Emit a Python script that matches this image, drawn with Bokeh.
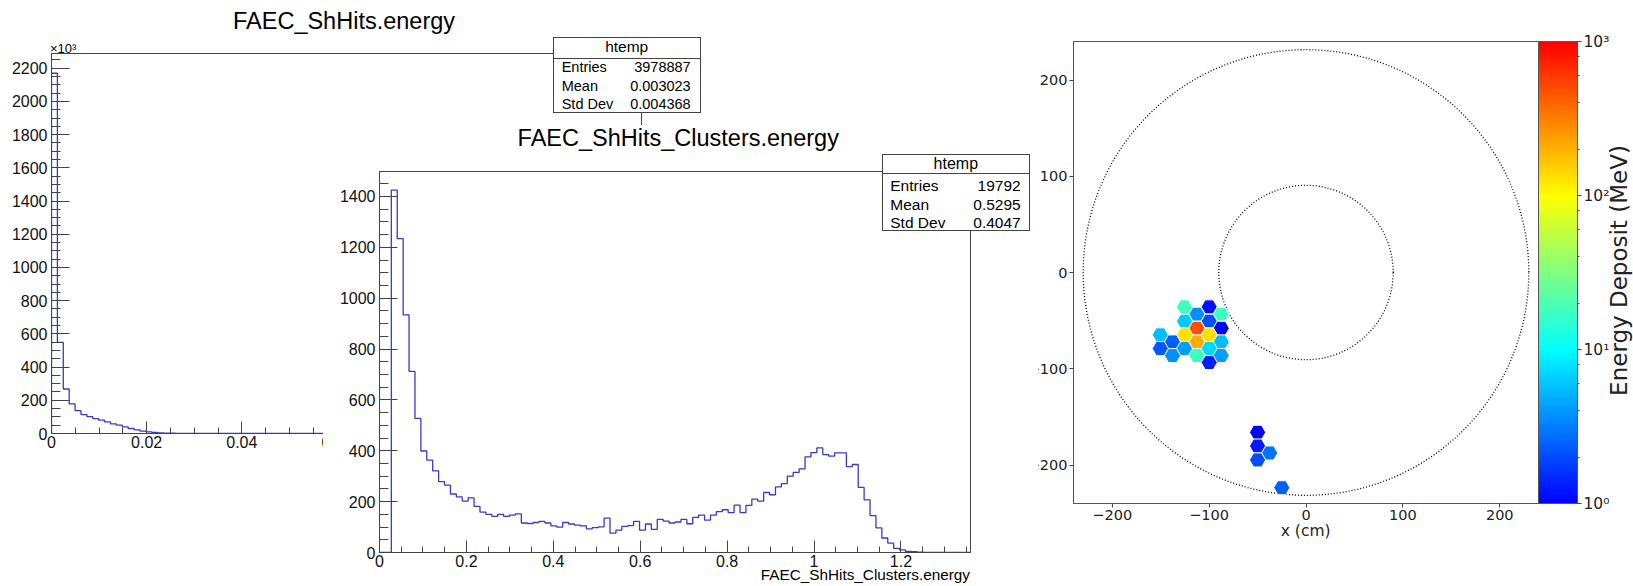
import numpy as np
from bokeh.plotting import figure
from bokeh.models import (Column, Div, ColumnDataSource, SingleIntervalTicker, FixedTicker,
                          CustomJSTickFormatter, LogColorMapper, ColorBar, LogTicker)
from bokeh.embed import file_html
from bokeh.resources import INLINE

# ---------------- data ----------------
hits_title = "FAEC_ShHits.energy"
hits_range = (0.0, 0.124)
hits_nbins = 100
hits_ymax_k = 2289
hits_counts_k = [2170, 549, 268, 178, 138, 114, 102, 90, 80, 70, 58, 50, 40, 30,
                 22, 14, 10, 6, 4, 2.5, 1.5, 1.0, 0.5]
stats_names = ["Entries", "Mean", "Std Dev"]
hits_stats_values = ["3978887", "0.003023", "0.004368"]

clus_title = "FAEC_ShHits_Clusters.energy"
clus_range = (0.0, 1.36)
clus_nbins = 100
clus_ymax = 1498
clus_counts = [0, 0, 1425, 1234, 934, 712, 527, 399, 363, 321, 279, 265, 230, 219, 202,
               215, 181, 159, 150, 142, 150, 142, 147, 152, 116, 114, 118, 122, 116, 105,
               100, 118, 112, 108, 105, 93, 98, 101, 135, 76, 88, 103, 106, 122, 88, 112,
               91, 130, 123, 116, 120, 130, 113, 138, 147, 127, 147, 161, 168, 157, 186,
               157, 185, 210, 202, 236, 227, 258, 271, 300, 315, 329, 376, 393, 411, 385,
               379, 392, 392, 338, 346, 256, 207, 145, 97, 57, 37, 16, 10, 4, 3, 1]
clus_stats_values = ["19792", "0.5295", "0.4047"]
stats_header = "htemp"

hex_x = [-125.4, -99.9, -112.6, -87.5, -125.4, -99.9, -112.6, -87.5, -150.4, -125.4,
         -99.9, -137.8, -112.6, -87.5, -150.4, -125.4, -99.9, -137.8, -112.6, -87.5,
         -99.9, -50.0, -50.0, -37.5, -50.0, -25.0]
hex_y = [-35.7, -35.7, -43.3, -43.3, -50.6, -50.6, -57.9, -57.9, -64.8, -64.8,
         -64.8, -72.1, -72.1, -72.1, -79.0, -79.0, -79.0, -86.3, -86.3, -86.3,
         -93.5, -166.0, -180.3, -187.5, -194.7, -223.6]
hex_e = [17.8, 1.16, 3.7, 17.8, 6.1, 2.06, 485, 1.0, 5.6, 132,
         132, 2.4, 204, 5.6, 2.2, 4.2, 7.0, 3.7, 17.8, 4.2,
         1.34, 1.0, 1.3, 2.8, 2.06, 2.4]
ring_r = [90, 230]
xy_ticks = [-200, -100, 0, 100, 200]
cbar_ticks = [1, 10, 100, 1000]
cbar_labels = ["10\u2070", "10\u00b9", "10\u00b2", "10\u00b3"]
x_label_r = "x (cm)"
cbar_title = "Energy Deposit (MeV)"

# ---------------- helpers ----------------
F_ROOT = "Liberation Sans"
F_MPL = "DejaVu Sans"
LINE_BLUE = "#3a3ac0"
AX = "#444444"
LEFT_PANEL = 90


def place(model, left, top, **extra):
    st = {"position": "absolute", "left": f"{left:.1f}px", "top": f"{top:.1f}px"}
    st.update(extra)
    model.styles = st
    return model


def step_source(counts, lo, hi, nbins):
    edges = np.linspace(lo, hi, nbins + 1)
    full = list(counts) + [0] * (nbins - len(counts))
    xs = [lo] + list(edges)
    ys = [0] + full + [full[-1]]
    return ColumnDataSource(dict(x=xs, y=ys))


def root_axes(p, xint, yint, xin, yin):
    xa, ya = p.xaxis[0], p.yaxis[0]
    xa.ticker = SingleIntervalTicker(interval=xint, num_minor_ticks=4)
    ya.ticker = SingleIntervalTicker(interval=yint, num_minor_ticks=4)
    fmt = "return String(Number(tick.toFixed(6)));"
    for ax in (xa, ya):
        ax.formatter = CustomJSTickFormatter(code=fmt)
        ax.axis_line_color = AX
        ax.major_tick_line_color = AX
        ax.minor_tick_line_color = AX
        ax.major_tick_out = 0
        ax.minor_tick_out = 0
        ax.major_label_text_font = F_ROOT
        ax.major_label_text_font_size = "16px"
        ax.major_label_text_color = "#111111"
    xa.major_tick_in = int(xin)
    xa.minor_tick_in = int(round(xin / 2))
    ya.major_tick_in = int(yin)
    ya.minor_tick_in = int(round(yin / 2))
    xa.major_label_standoff = 2
    ya.major_label_standoff = 4
    p.xgrid.visible = False
    p.ygrid.visible = False
    p.outline_line_color = AX
    p.outline_line_width = 1


def text_div(text, left, baseline, fs, font, width, align="left", color="#000"):
    top = baseline - 0.8465 * fs
    html = (f'<div style="font-family:\'{font}\';font-size:{fs}px;line-height:{fs}px;'
            f'white-space:nowrap;text-align:{align};color:{color};width:{width}px;">{text}</div>')
    d = Div(text=html, width=width, height=int(np.ceil(fs)), margin=0)
    return place(d, left, top)


def stats_div(left, top, w, h, line_rel, hdr_base, row_bases, pad_l, pad_r, fs_h, fs, values):
    parts = [f'<div style="position:relative;box-sizing:border-box;width:{w}px;height:{h}px;'
             f'border:1px solid {AX};background:#fff;font-family:\'{F_ROOT}\';color:#000;">']
    parts.append(f'<div style="position:absolute;left:0;top:{hdr_base - 0.8465*fs_h:.1f}px;width:100%;'
                 f'text-align:center;font-size:{fs_h}px;line-height:{fs_h}px;">{stats_header}</div>')
    parts.append(f'<div style="position:absolute;left:0;top:{line_rel:.1f}px;width:100%;'
                 f'border-top:1px solid {AX};"></div>')
    for name, val, b in zip(stats_names, values, row_bases):
        t = b - 0.8465 * fs
        parts.append(f'<div style="position:absolute;left:{pad_l}px;top:{t:.1f}px;font-size:{fs}px;'
                     f'line-height:{fs}px;white-space:nowrap;">{name}</div>')
        parts.append(f'<div style="position:absolute;right:{pad_r}px;top:{t:.1f}px;font-size:{fs}px;'
                     f'line-height:{fs}px;white-space:nowrap;">{val}</div>')
    parts.append('</div>')
    d = Div(text="".join(parts), width=int(round(w)), height=int(round(h)), margin=0)
    return place(d, left, top)


# ---------------- left histogram (frame 51..641 x 53..433) ----------------
pL = figure(x_range=hits_range, y_range=(0, hits_ymax_k), frame_width=590, frame_height=380,
            min_border_left=LEFT_PANEL, min_border_right=59, min_border_top=45, min_border_bottom=140,
            output_backend="svg", toolbar_location=None, margin=0)
pL.step("x", "y", source=step_source(hits_counts_k, *hits_range, hits_nbins), mode="after",
        line_color=LINE_BLUE, line_width=1.3)
root_axes(pL, 0.02, 200, 12, 18)
place(pL, 51 - LEFT_PANEL, 8)

# white pad of the second canvas, lying over the first one
cover = Div(text="", width=715, height=461, margin=0)
place(cover, 323, 125, **{"background-color": "white"})

# ---------------- middle histogram (frame 379..970 x 171..552) ----------------
pM = figure(x_range=clus_range, y_range=(0, clus_ymax), frame_width=591, frame_height=381,
            min_border_left=LEFT_PANEL, min_border_right=68, min_border_top=46, min_border_bottom=33,
            output_backend="svg", toolbar_location=None, margin=0, border_fill_alpha=0)
pM.step("x", "y", source=step_source(clus_counts, *clus_range, clus_nbins), mode="after",
        line_color=LINE_BLUE, line_width=1.3)
root_axes(pM, 0.2, 200, 12, 18)
place(pM, 379 - LEFT_PANEL, 125)

# ---------------- hit map (frame 1073..1538 x 41..503) ----------------
def jet_segment_palette(n=256):
    out = []
    for i in range(n):
        t = 3.0 * i / (n - 1)
        if t <= 1:
            r, g, b = 0.0, t, 1.0
        elif t <= 2:
            r, g, b = t - 1, 1.0, 2 - t
        else:
            r, g, b = 1.0, 3 - t, 0.0
        out.append("#%02x%02x%02x" % (int(round(r * 255)), int(round(g * 255)), int(round(b * 255))))
    return out


mapper = LogColorMapper(palette=jet_segment_palette(), low=cbar_ticks[0], high=cbar_ticks[-1])
pR = figure(x_range=(-240, 240), y_range=(-240, 240), frame_width=465, frame_height=462,
            min_border_left=LEFT_PANEL, min_border_right=40, min_border_top=33, min_border_bottom=75,
            output_backend="svg", toolbar_location=None, margin=0)
pR.circle(x=[0] * len(ring_r), y=[0] * len(ring_r), radius=ring_r, fill_color=None,
          line_color="black", line_width=1.3, line_dash="1 2")
pR.scatter("x", "y", source=ColumnDataSource(dict(x=hex_x, y=hex_y, e=hex_e)), marker="hex",
           size=16.2, fill_color={"field": "e", "transform": mapper}, line_color="white",
           line_width=1)
pR.xgrid.visible = False
pR.ygrid.visible = False
pR.outline_line_color = "#555555"
mfmt = CustomJSTickFormatter(code="return tick < 0 ? '\\u2212' + Math.abs(tick) : String(tick);")
for ax in (pR.xaxis[0], pR.yaxis[0]):
    ax.ticker = FixedTicker(ticks=xy_ticks, minor_ticks=[])
    ax.formatter = mfmt
    ax.axis_line_color = "#555555"
    ax.major_tick_line_color = "#444444"
    ax.major_tick_in = 0
    ax.major_tick_out = 4
    ax.minor_tick_out = 0
    ax.minor_tick_in = 0
    ax.major_label_text_font = F_MPL
    ax.major_label_text_font_size = "14.5px"
    ax.major_label_text_color = "#222222"
    ax.major_label_standoff = 2
cb = ColorBar(color_mapper=mapper, ticker=LogTicker(), width=39, margin=0, padding=0,
              location="top_left", bar_line_color="#555555", border_line_color=None,
              major_tick_in=0, major_tick_out=4, minor_tick_in=0, minor_tick_out=2,
              major_tick_line_color="#444444", minor_tick_line_color="#444444",
              major_label_text_font=F_MPL, major_label_text_font_size="15.5px",
              major_label_text_color="#222222", label_standoff=2,
              major_label_overrides=dict(zip(cbar_ticks, cbar_labels)))
pR.add_layout(cb, "right")
place(pR, 1073 - LEFT_PANEL, 8)

# ---------------- texts ----------------
divs = []
divs.append(text_div(hits_title, 233, 29.5, 23.5, F_ROOT, 280))
divs.append(text_div(clus_title, 517.6, 147, 23.5, F_ROOT, 360))
divs.append(text_div("\u00d710\u00b3", 50, 51.5, 13, F_ROOT, 40))
divs.append(stats_div(552.7, 36.7, 148, 76, 20.6, 14.3, [35, 53.3, 71.6], 8, 9, 15.5, 14.5,
                      hits_stats_values))
divs.append(stats_div(881.7, 154.3, 148.3, 77, 17.4, 14.0, [35.7, 54.5, 72.4], 7.6, 8.3, 16, 15.5,
                      clus_stats_values))
divs.append(text_div(clus_title, 710, 579.5, 15.3, F_ROOT, 260, align="right"))
divs.append(text_div(x_label_r, 1305.7 - 50, 537.5, 15.5, F_MPL, 100, align="center", color="#222"))

# rotated colour-bar title, kept just inside the window edge
fs_c = 23
box_l, box_t, box_w, box_h = 1604, 90, 29, 320
cx = 1626.5 - 0.3465 * fs_c - box_l
cy = 241.5 + 29 - box_t          # +29: measured offset of the rotated block in this renderer
inner_w = 252
rot_html = (f'<div style="position:absolute;left:{cx - inner_w/2:.1f}px;top:{cy - fs_c/2:.1f}px;'
            f'width:{inner_w}px;height:{fs_c}px;font-family:\'{F_MPL}\';font-size:{fs_c}px;'
            f'line-height:{fs_c}px;text-align:center;white-space:nowrap;color:#222;'
            f'transform:rotate(-90deg);transform-origin:50% 50%;">{cbar_title}</div>')
dc = Div(text=rot_html, width=box_w, height=box_h, margin=0)
place(dc, box_l, box_t, overflow="hidden")
divs.append(dc)

root = Column(children=[pR, pL, cover, pM] + divs, width=1633, height=586, margin=0,
              styles={"position": "relative", "overflow": "hidden"})

open("out.html", "w").write(file_html(root, INLINE))
